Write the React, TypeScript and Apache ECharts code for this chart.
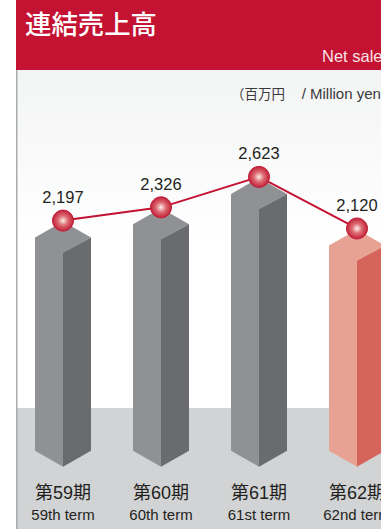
import React, { useEffect, useRef } from "react";
import * as echarts from "echarts";

// Consolidated net sales by fiscal term
const termsJa = ["第59期", "第60期", "第61期", "第62期"];
const termsEn = ["59th term", "60th term", "61st term", "62nd term"];
const netSales = [2197, 2326, 2623, 2120];
const highlightedTerm = 3;

const grayFaces = { top: "#909194", right: "#6a6b6e" };
const pinkFaces = { top: "#e8a294", right: "#d5655b" };

const SANS = '"Liberation Sans", Arial, sans-serif';
const MIXED = '"Liberation Sans", "Noto Sans CJK JP", sans-serif';
const CJK = '"Noto Sans CJK JP", "Liberation Sans", sans-serif';

// Draws one prism: a hexagonal column whose rear top corner sits at the value.
// The top and left faces share one tone, so only the right face stands out.
function renderPrism(_params: any, api: any) {
  const index = api.value(0);
  const [cx, yTop] = api.coord([index, api.value(1)]);
  const [, yZero] = api.coord([index, 0]);
  const halfW = 28;
  const faces = index === highlightedTerm ? pinkFaces : grayFaces;
  const sideY = yTop + 17;
  const frontY = yTop + 32;
  const bottomFront = yZero + 20.7;
  const bottomSide = bottomFront - 16;
  const poly = (points: number[][], fill: any) => ({
    type: "polygon",
    shape: { points },
    style: { fill },
  });
  return {
    type: "group",
    children: [
      poly(
        [
          [cx, yTop + 1],
          [cx + halfW, sideY],
          [cx, frontY],
          [cx, bottomFront],
          [cx - halfW, bottomSide],
          [cx - halfW, sideY],
        ],
        faces.top,
      ),
      poly(
        [
          [cx + halfW, sideY],
          [cx, frontY],
          [cx, bottomFront],
          [cx + halfW, bottomSide],
        ],
        faces.right,
      ),
    ],
  };
}

export default function App() {
  const ref = useRef<HTMLDivElement>(null);

  useEffect(() => {
    const chart = echarts.init(ref.current!, null, { renderer: "svg" });
    chart.setOption({
      animation: false,
      backgroundColor: "#ffffff",
      grid: { left: 14, width: 392, top: 138.2, height: 307.8 },
      xAxis: {
        type: "category",
        data: termsJa.map((ja, i) => `${ja}\n${termsEn[i]}`),
        axisLine: { show: false },
        axisTick: { show: false },
        axisLabel: {
          margin: 36,
          interval: 0,
          formatter: (value: string) => {
            const [ja, en] = value.split("\n");
            return `{ja|${ja}}\n{en|${en}}`;
          },
          rich: {
            ja: { fontFamily: MIXED, fontSize: 18, color: "#231f20", lineHeight: 21.5 },
            en: { fontFamily: SANS, fontSize: 15, color: "#231f20", lineHeight: 21.5 },
          },
        },
      },
      yAxis: { type: "value", min: 0, max: 3000, show: false },
      graphic: [
        {
          type: "rect",
          z: -3,
          shape: { x: 16, y: 70, width: 424, height: 338 },
          style: {
            fill: new echarts.graphic.LinearGradient(0, 0, 0, 1, [
              { offset: 0, color: "#f3f4f4" },
              { offset: 0.5, color: "#ffffff" },
              { offset: 1, color: "#ffffff" },
            ]),
          },
        },
        { type: "rect", z: -3, shape: { x: 16, y: 408, width: 424, height: 121 }, style: { fill: "#d1d3d4" } },
        { type: "rect", z: -2, shape: { x: 16, y: 70, width: 1.5, height: 459 }, style: { fill: "#a9abae" } },
        { type: "rect", z: -2, shape: { x: 16, y: 0, width: 424, height: 70 }, style: { fill: "#c31232" } },
        {
          type: "text",
          x: 25,
          y: 22,
          style: {
            text: "連結売上高",
            fill: "#ffffff",
            font: `500 26.4px ${CJK}`,
            textVerticalAlign: "middle",
          },
        },
        {
          type: "text",
          x: 322,
          y: 56,
          style: {
            text: "Net sales",
            fill: "#f8e3e6",
            font: `16.5px ${SANS}`,
            textVerticalAlign: "middle",
          },
        },
        {
          type: "text",
          x: 231,
          y: 93,
          style: {
            text: "{ja|（百万円}{en|    / Million yen）}",
            textVerticalAlign: "middle",
            rich: {
              ja: { fill: "#3a3a3c", font: `13.5px ${CJK}` },
              en: { fill: "#3a3a3c", font: `15px ${MIXED}` },
            },
          },
        },
      ],
      series: [
        {
          type: "custom",
          renderItem: renderPrism,
          clip: false,
          data: netSales.map((v, i) => [i, v]),
          encode: { x: 0, y: 1 },
          z: 2,
        },
        {
          type: "line",
          data: netSales,
          z: 3,
          clip: false,
          symbol: "circle",
          symbolSize: 21,
          lineStyle: { color: "#c31232", width: 2 },
          itemStyle: {
            color: new echarts.graphic.RadialGradient(0.5, 0.5, 0.5, [
              { offset: 0, color: "#fdf1ec" },
              { offset: 0.45, color: "#de7077" },
              { offset: 1, color: "#c21f38" },
            ]),
            borderColor: "#c21f38",
            borderWidth: 1,
          },
          label: {
            show: true,
            position: "top",
            distance: 4,
            color: "#231f20",
            fontFamily: SANS,
            fontSize: 16.5,
            formatter: (p: any) => Number(p.value).toLocaleString("en-US"),
          },
        },
      ],
    });
    return () => chart.dispose();
  }, []);

  return (
    <div style={{ position: "absolute", left: 0, top: 0, width: 381, height: 529, overflow: "hidden" }}>
      <div ref={ref} style={{ width: 440, height: 529 }} />
    </div>
  );
}
